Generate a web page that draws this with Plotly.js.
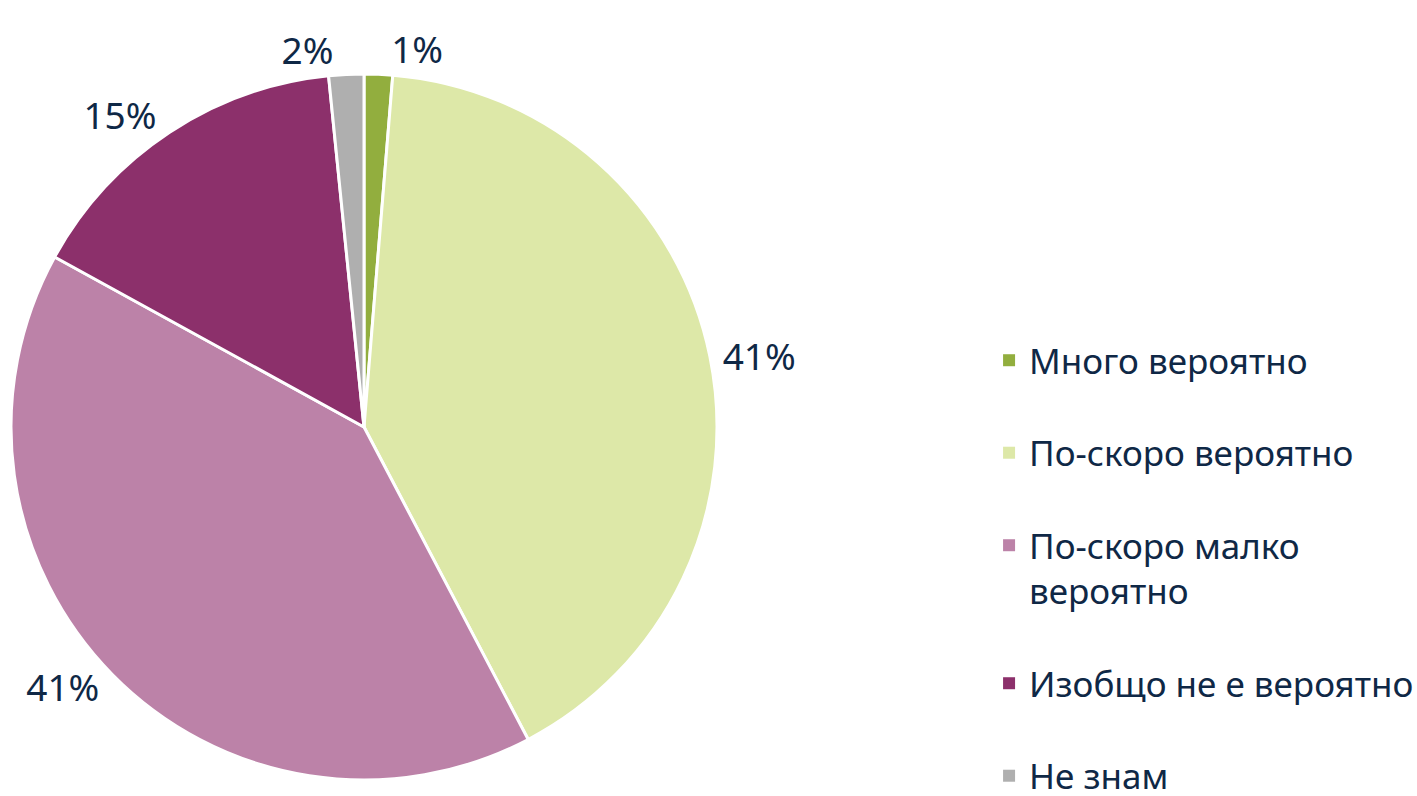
<!DOCTYPE html>
<html>
<head>
<meta charset="utf-8">
<script src="https://cdn.plot.ly/plotly-3.0.1.min.js"></script>
<style>html,body{margin:0;padding:0;background:#fff;}#chart{width:1417px;height:796px;}</style>
</head>
<body>
<div id="chart"></div>
<script>
const categories = ['Много вероятно', 'По-скоро вероятно', 'По-скоро малко<br>вероятно', 'Изобщо не е вероятно', 'Не знам'];
const values = [1.3, 41.0, 40.7, 15.4, 1.6];
const colors = ['#92ae3e', '#dde8a8', '#bc82a8', '#8c306b', '#afafaf'];

const textColor = '#0f2846';
const fontFam = '"Noto Sans", "Open Sans", sans-serif';

const pie = {
  type: 'pie',
  labels: categories,
  values: values,
  sort: false,
  direction: 'clockwise',
  rotation: 0,
  marker: {colors: colors, line: {color: '#ffffff', width: 3}},
  texttemplate: '%{percent:.0%}',
  textposition: 'outside',
  textfont: {family: fontFam, size: 37, color: textColor},
  outsidetextfont: {family: fontFam, size: 37, color: textColor},
  showlegend: false,
  hoverinfo: 'label+percent',
  domain: {x: [11/1417, 717/1417], y: [16/796, 722/796]},
  automargin: false
};

const legendTraces = categories.map((c, i) => ({
  type: 'scatter',
  mode: 'markers',
  x: [null], y: [null],
  name: c,
  legendgroup: 'g' + i,
  marker: {symbol: 'square', size: 16, color: colors[i]},
  showlegend: true,
  hoverinfo: 'skip'
}));

const layout = {
  width: 1417, height: 796,
  margin: {l: 0, r: 0, t: 0, b: 0, autoexpand: false},
  paper_bgcolor: '#ffffff',
  plot_bgcolor: '#ffffff',
  xaxis: {visible: false},
  yaxis: {visible: false},
  showlegend: true,
  legend: {
    x: 0.698, xanchor: 'left',
    y: 0.5842, yanchor: 'top',
    font: {family: fontFam, size: 35, color: textColor},
    tracegroupgap: 44,
    valign: 'top',
    itemsizing: 'constant',
    bgcolor: 'rgba(0,0,0,0)'
  }
};

Plotly.newPlot('chart', [pie].concat(legendTraces), layout, {displayModeBar: false, staticPlot: true});
</script>
</body>
</html>
